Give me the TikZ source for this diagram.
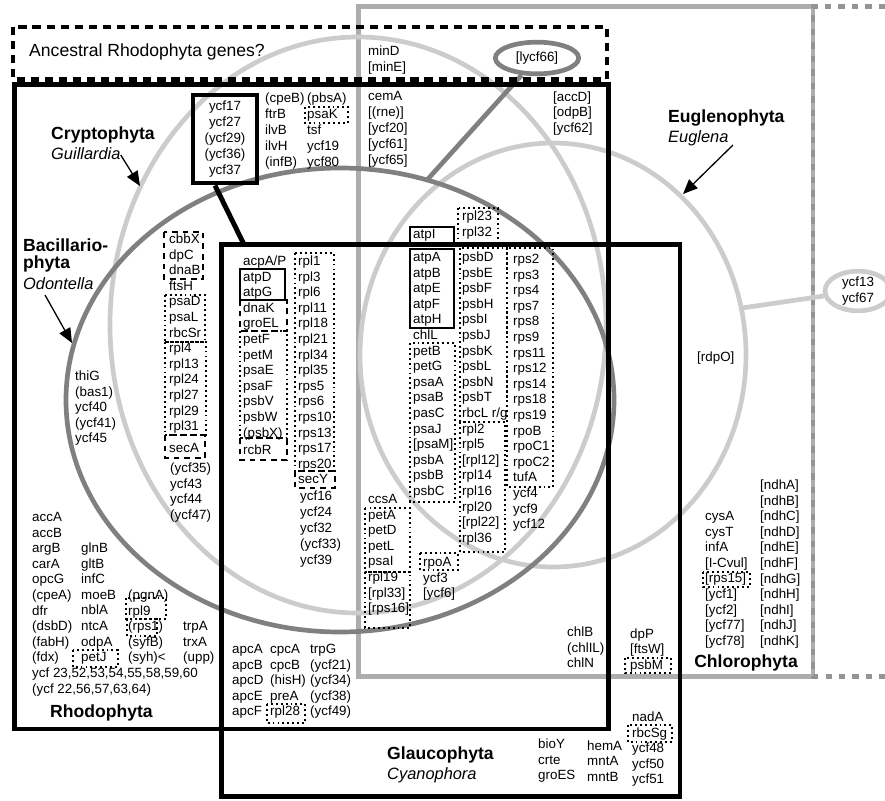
\documentclass[tikz,border=0pt]{standalone}
\usepackage{fontspec}
\setmainfont{Liberation Sans}
\usetikzlibrary{arrows.meta,calc,shapes.geometric}

\newcommand{\genesize}{\fontsize{11.4}{13.3}\selectfont}
\newcommand{\taxsize}{\fontsize{15}{17}\selectfont\bfseries}
\newcommand{\genussize}{\fontsize{14}{16}\selectfont\itshape}

\definecolor{lightring}{gray}{0.80}
\definecolor{darkring}{gray}{0.50}
\definecolor{chlorogray}{gray}{0.68}
\definecolor{dashgray}{gray}{0.58}

\begin{document}
\begin{tikzpicture}[x=0.03cm,y=-0.03cm,
  gene/.style={anchor=west,inner sep=0pt,text height=8.2pt,text depth=2.3pt,font=\genesize},
  taxon/.style={anchor=west,inner sep=0pt,text height=11pt,text depth=3pt,font=\taxsize},
  genus/.style={anchor=west,inner sep=0pt,text height=10pt,text depth=2.8pt,font=\genussize},
  boxline/.style={line width=4.2pt},
  ring/.style={line width=4pt},
  dotbox/.style={draw,line width=1.6pt,dash pattern=on 1.6pt off 2.6pt},
  dashbox/.style={draw,line width=1.5pt,dash pattern=on 5pt off 4pt},
  solidbox/.style={draw,line width=1.6pt},
  pointer/.style={line width=1.1pt,-{Triangle[length=12.5pt,width=10.5pt]}}]
\useasboundingbox (0,0) rectangle (885,800);

% corners of the taxon boxes
\coordinate (AncestNW) at (13,27);
\coordinate (AncestSE) at (607,79.5);
\coordinate (RhodoNW)  at (14.5,84.5);
\coordinate (RhodoSE)  at (608.5,729);
\coordinate (GlaucoNW) at (221.5,244.5);
\coordinate (GlaucoSE) at (680,796.5);
\coordinate (ChloroNW) at (358.5,6.5);
\coordinate (ChloroSE) at (813,676.5);

% where pointers and links meet the rings
\coordinate (CryptoTip) at (140,186);
\coordinate (BacilTail) at (45,295);
\coordinate (BacilTip)  at (72,343);
\coordinate (EuglTail)  at (733,145);
\coordinate (EuglTip)   at (683,194);
\coordinate (BacilTop)  at (427,180);
\coordinate (EuglRight) at (742,308);
\coordinate (GlaucoTop) at (244,244.5);

% Chlorophyta (gray, open to the right)
\draw[boxline,draw=chlorogray] (ChloroNW) rectangle (ChloroSE);
\draw[boxline,draw=dashgray,dash pattern=on 5.5pt off 6pt]
  (885,6.5) -- (ChloroNW -| ChloroSE) -- (ChloroSE) -- (885,676.5);

% the three rings
\draw[ring,lightring] (358,325) ellipse [x radius=248,y radius=288]; % Cryptophyta
\draw[ring,lightring] (553,355) ellipse [x radius=193,y radius=212]; % Euglenophyta
\draw[ring,darkring] (340,400) ellipse [x radius=274,y radius=232];  % Bacillariophyta

\node[ring,draw=darkring,ellipse,minimum width=2.5cm,minimum height=0.95cm,inner sep=0pt,font=\genesize] (lycf) at (537,58) {[lycf66]};
\node[ring,draw=lightring,ellipse,minimum width=1.98cm,minimum height=1.14cm,inner sep=0pt,align=center,font=\genesize] (ycfpair) at (858,291) {ycf13\\ycf67};
\draw[ring,darkring] (lycf) -- (BacilTop);
\draw[ring,lightring] (ycfpair) -- (EuglRight);

% Rhodophyta, Glaucophyta and the ancestral strip
\draw[boxline] (RhodoNW) rectangle (RhodoSE);
\draw[boxline] (GlaucoNW) rectangle (GlaucoSE);
\draw[boxline,dash pattern=on 7pt off 5pt] (AncestNW) rectangle (AncestSE);

\node[draw,boxline,minimum width=1.92cm,minimum height=2.64cm,inner sep=0pt,align=center,font=\fontsize{11.4}{13.8}\selectfont] (ycfbox) at (225,139) {ycf17\\ycf27\\(ycf29)\\(ycf36)\\ycf37};
\draw[boxline] ($(ycfbox.south)+(-10,0)$) -- (GlaucoTop);

% gene clusters
\draw[dotbox] (305,107) rectangle (348,123);   % psaK
\draw[dashbox] (164,232) rectangle (203,279);  % cbbX
\draw[dotbox] (165,295) rectangle (205,342);
\draw[dotbox] (165,342) rectangle (206,435);
\draw[dashbox] (165,435) rectangle (205,458);  % secA
\draw[solidbox] (240,269) rectangle (285,300); % atpD
\draw[dashbox] (240,300) rectangle (287,331);
\draw[dotbox] (240,331) rectangle (287,438);
\draw[dashbox] (240,438) rectangle (287,460);  % rcbR
\draw[dotbox] (295,253) rectangle (334,471);
\draw[dashbox] (295,471) rectangle (335,488);  % secY
\draw[solidbox] (410,227) rectangle (454,243); % atpI
\draw[dotbox] (458,208) rectangle (498,243);
\draw[solidbox] (410,249) rectangle (454,328); % atpA
\draw[dotbox] (410,343) rectangle (455,502);
\draw[dotbox] (460,248) rectangle (507,422);
\draw[dotbox] (460,422) rectangle (505,552);
\draw[dotbox] (507,248) rectangle (553,487);
\draw[dotbox] (365,508) rectangle (410,572);
\draw[dotbox] (365,572) rectangle (410,628);
\draw[dotbox] (420,553) rectangle (458,570);   % rpoA
\draw[dotbox] (73,650) rectangle (118,667);    % petJ
\draw[dotbox] (126,598) rectangle (166,619);   % rpl9
\draw[dotbox] (127,619) rectangle (157,636);   % rps1
\draw[dotbox] (267,704) rectangle (305,723);   % rpl28
\draw[dotbox] (625,658) rectangle (671,673);   % psbM
\draw[dotbox] (703,572) rectangle (750,587);   % rps15
\draw[dotbox] (628,725) rectangle (672,742);   % rbcSg

% taxon labels and pointers
\node[anchor=west,inner sep=0pt,font=\fontsize{15}{17}\selectfont] (ancest) at (29,52) {Ancestral Rhodophyta genes?};
\node[taxon] (crypto) at (51,135) {Cryptophyta};
\node[genus] (guil) at (51,155) {Guillardia};
\draw[pointer] (guil.east) -- (CryptoTip);
\node[taxon] (bacil) at (23,247) {Bacillario-};
\node[taxon] (bacilb) at (23,264) {phyta};
\node[genus] (odon) at (23,285) {Odontella};
\draw[pointer] (BacilTail) -- (BacilTip);
\node[taxon] (eugl) at (668,118) {Euglenophyta};
\node[genus] (euglg) at (668,138) {Euglena};
\draw[pointer] (EuglTail) -- (EuglTip);
\node[taxon] (rhodo) at (50,713) {Rhodophyta};
\node[taxon] (glauco) at (387,755) {Glaucophyta};
\node[genus] (cyano) at (387,775) {Cyanophora};
\node[taxon,anchor=east] (chloro) at (798,663) {Chlorophyta};

% gene lists
\foreach \g [count=\i from 0] in {minD,{[minE]}}
  \node[gene] (min\i) at (368,52+16*\i) {\g};
\foreach \g [count=\i from 0] in {(cpeB),ftrB,ilvB,ilvH,(infB)}
  \node[gene] (cpe\i) at (265,99+16*\i) {\g};
\foreach \g [count=\i from 0] in {(pbsA),psaK,tsf,ycf19,ycf80}
  \node[gene] (pbs\i) at (307,99+16*\i) {\g};
\foreach \g [count=\i from 0] in {cemA,{[(rne)]},{[ycf20]},{[ycf61]},{[ycf65]}}
  \node[gene] (cem\i) at (368,97+16*\i) {\g};
\foreach \g [count=\i from 0] in {{[accD]},{[odpB]},{[ycf62]}}
  \node[gene] (acc\i) at (553,98+15.5*\i) {\g};
\foreach \g [count=\i from 0] in {thiG,(bas1),ycf40,(ycf41),ycf45}
  \node[gene] (thi\i) at (75,377+15.6*\i) {\g};
\foreach \g [count=\i from 0] in {cbbX,dpC,dnaB,ftsH,psaD,psaL,rbcSr,rpl4,rpl13,rpl24,rpl27,rpl29,rpl31}
  \node[gene] (cbb\i) at (169,240+15.6*\i) {\g};
\node[gene] (secA) at (169,449) {secA};
\foreach \g [count=\i from 0] in {(ycf35),ycf43,ycf44,(ycf47)}
  \node[gene] (ycfa\i) at (170,469+15.6*\i) {\g};
\foreach \g [count=\i from 0] in {acpA/P,atpD,atpG,dnaK,groEL,petF,petM,psaE,psaF,psbV,psbW,(psbX)}
  \node[gene] (acp\i) at (243,262+15.6*\i) {\g};
\node[gene] (rcbR) at (243,451) {rcbR};
\foreach \g [count=\i from 0] in {rpl1,rpl3,rpl6,rpl11,rpl18,rpl21,rpl34,rpl35,rps5,rps6,rps10,rps13,rps17,rps20,secY}
  \node[gene] (rpla\i) at (298,262+15.6*\i) {\g};
\foreach \g [count=\i from 0] in {ycf16,ycf24,ycf32,(ycf33),ycf39}
  \node[gene] (ycfb\i) at (300,497+16*\i) {\g};
\node[gene] (atpI) at (413,235) {atpI};
\foreach \g [count=\i from 0] in {rpl23,rpl32}
  \node[gene] (rplb\i) at (462,217+15.6*\i) {\g};
\foreach \g [count=\i from 0] in {atpA,atpB,atpE,atpF,atpH,chlL,petB,petG,psaA,psaB,pasC,psaJ,{[psaM]},psbA,psbB,psbC}
  \node[gene] (atp\i) at (413,258+15.6*\i) {\g};
\foreach \g [count=\i from 0] in {psbD,psbE,psbF,psbH,psbI,psbJ,psbK,psbL,psbN,psbT,rbcL r/g,rpl2,rpl5,{[rpl12]},rpl14,rpl16,rpl20,{[rpl22]},rpl36}
  \node[gene] (psb\i) at (462,258+15.6*\i) {\g};
\foreach \g [count=\i from 0] in {rps2,rps3,rps4,rps7,rps8,rps9,rps11,rps12,rps14,rps18,rps19,rpoB,rpoC1,rpoC2,tufA,ycf4,ycf9,ycf12}
  \node[gene] (rps\i) at (513,260+15.6*\i) {\g};
\foreach \g [count=\i from 0] in {ccsA,petA,petD,petL,psaI,rpl19,{[rpl33]},{[rps16]}}
  \node[gene] (ccs\i) at (368,500+15.6*\i) {\g};
\foreach \g [count=\i from 0] in {rpoA,ycf3,{[ycf6]}}
  \node[gene] (rpo\i) at (423,563+15.6*\i) {\g};

% Rhodophyta only
\foreach \g [count=\i from 0] in {accA,accB,argB,carA,opcG,(cpeA),dfr,(dsbD),(fabH),(fdx),{ycf 23,52,53,54,55,58,59,60},{(ycf 22,56,57,63,64)}}
  \node[gene] (rha\i) at (32,518+15.6*\i) {\g};
\foreach \g [count=\i from 0] in {glnB,gltB,infC,moeB,nblA,ntcA,odpA,petJ}
  \node[gene] (rhb\i) at (81,549+15.6*\i) {\g};
\foreach \g [count=\i from 0] in {(pgnA),rpl9,(rps1),(syfB),(syh)<}
  \node[gene] (rhc\i) at (128,596+15.6*\i) {\g};
\foreach \g [count=\i from 0] in {trpA,trxA,(upp)}
  \node[gene] (rhd\i) at (183,627+15.6*\i) {\g};

% Glaucophyta and Rhodophyta
\foreach \g [count=\i from 0] in {apcA,apcB,apcD,apcE,apcF}
  \node[gene] (apc\i) at (232,650+15.6*\i) {\g};
\foreach \g [count=\i from 0] in {cpcA,cpcB,(hisH),preA,rpl28}
  \node[gene] (cpc\i) at (270,650+15.6*\i) {\g};
\foreach \g [count=\i from 0] in {trpG,(ycf21),(ycf34),(ycf38),(ycf49)}
  \node[gene] (trp\i) at (310,650+15.6*\i) {\g};

% Chlorophyta side
\foreach \g [count=\i from 0] in {chlB,(chlIL),chlN}
  \node[gene] (chl\i) at (567,633+15.6*\i) {\g};
\foreach \g [count=\i from 0] in {dpP,{[ftsW]},psbM}
  \node[gene] (dpp\i) at (630,635+15.3*\i) {\g};
\foreach \g [count=\i from 0] in {cysA,cysT,infA,{[I-Cvul]},{[rps15]},{[ycf1]},{[ycf2]},{[ycf77]},{[ycf78]}}
  \node[gene] (cys\i) at (705,517+15.6*\i) {\g};
\foreach \l [count=\i from 0] in {A,B,C,D,E,F,G,H,I,J,K}
  \node[gene] (ndh\i) at (760,486+15.6*\i) {[ndh\l]};
\node[gene] (rdpO) at (697,358) {[rdpO]};

% Glaucophyta only
\foreach \g [count=\i from 0] in {bioY,crte,groES}
  \node[gene] (bio\i) at (538,745+15.6*\i) {\g};
\foreach \g [count=\i from 0] in {hemA,mntA,mntB}
  \node[gene] (hem\i) at (587,747+15.3*\i) {\g};
\foreach \g [count=\i from 0] in {nadA,rbcSg,ycf48,ycf50,ycf51}
  \node[gene] (nad\i) at (632,718+15.6*\i) {\g};
\end{tikzpicture}
\end{document}
